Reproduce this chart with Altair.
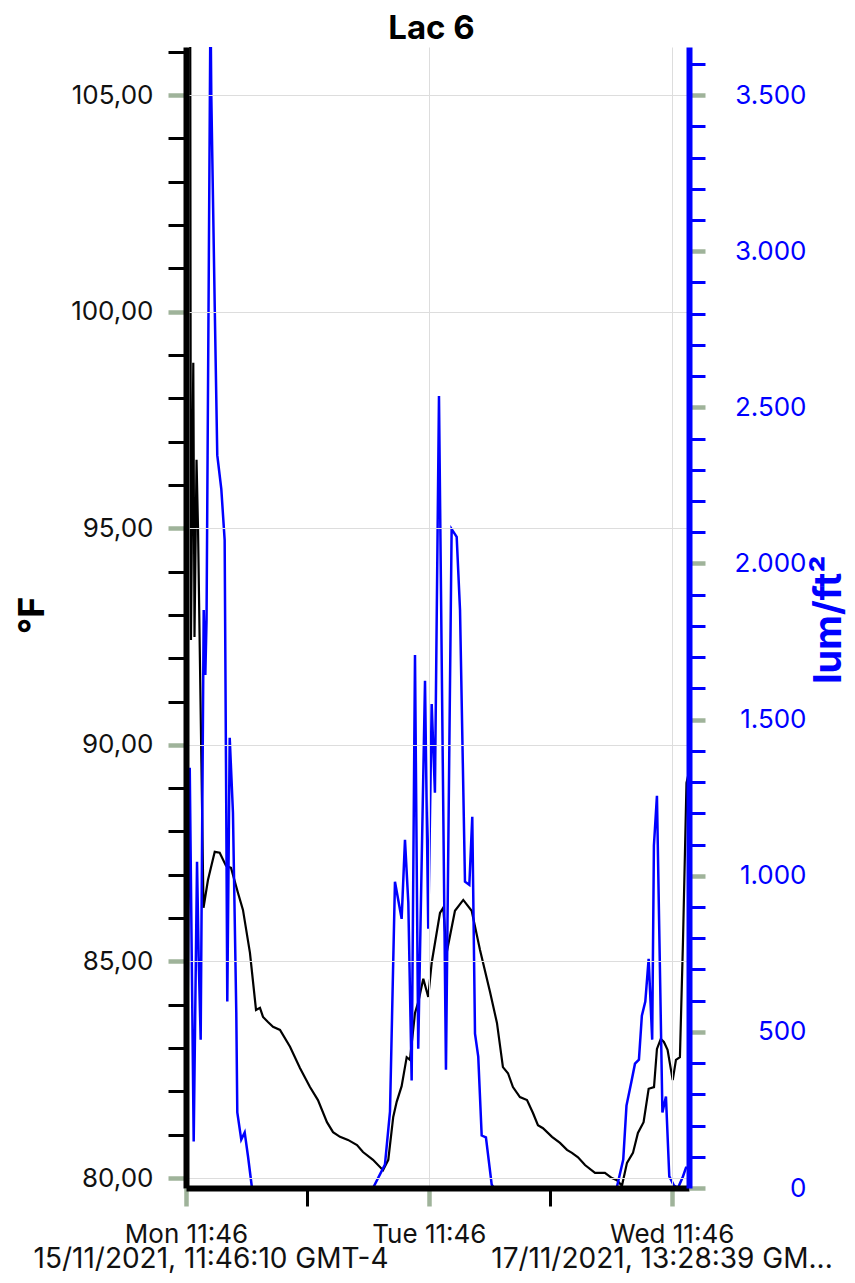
import altair as alt
import pandas as pd

START = "2021-11-15 11:46:10"
END = "2021-11-17 13:28:39"

# Temperature (°F), hours since start
temp_hours = [0.00, 0.40, 0.49, 0.72, 0.84, 1.04, 1.19, 1.73, 2.17, 2.84, 3.33, 3.95, 4.45, 5.14, 5.63,
              6.32, 6.92, 7.31, 7.61, 8.10, 8.60, 9.29, 10.28, 11.26, 12.25, 13.04, 13.93, 14.53, 15.22,
              16.01, 16.90, 17.49, 18.48, 19.47, 19.99, 20.48, 20.82, 21.31, 21.81, 22.13, 22.63, 22.95,
              23.45, 23.94, 24.28, 25.10, 25.42, 25.76, 26.58, 27.40, 28.23, 29.05, 30.04, 30.73, 31.32,
              31.82, 32.31, 33.00, 33.70, 34.29, 34.78, 35.28, 36.17, 36.96, 37.65, 38.14, 38.74, 39.43,
              40.42, 41.40, 42.09, 42.59, 43.08, 43.58, 44.17, 44.66, 45.22, 45.72, 46.25, 46.54, 46.92,
              47.23, 47.59, 48.10, 48.42, 48.81, 49.11, 49.46, 49.71]
temp_values = [112, 110, 92.42, 98.82, 92.49, 96.58, 94.97, 86.24, 86.88, 87.53, 87.51, 87.21, 87.16,
               86.58, 86.19, 85.20, 83.88, 83.93, 83.72, 83.60, 83.49, 83.42, 83.03, 82.54, 82.10, 81.80,
               81.29, 81.06, 80.95, 80.88, 80.76, 80.60, 80.42, 80.18, 80.42, 81.41, 81.76, 82.12, 82.79,
               82.73, 83.81, 84.06, 84.60, 84.18, 84.97, 86.12, 86.24, 85.20, 86.17, 86.42, 86.17, 85.27,
               84.30, 83.58, 82.56, 82.42, 82.10, 81.87, 81.80, 81.50, 81.22, 81.15, 80.95, 80.81, 80.65,
               80.58, 80.48, 80.30, 80.12, 80.12, 80.00, 79.95, 79.82, 80.35, 80.58, 81.04, 81.29, 82.06,
               82.10, 82.98, 83.21, 83.14, 82.96, 82.26, 82.73, 82.79, 85.43, 89.12, 89.38]

# Illuminance (lum/ft²), hours since start
lum_hours = [0.00, 0.37, 0.76, 1.09, 1.25, 1.45, 1.75, 1.91, 2.03, 2.42, 2.50, 2.84, 3.09, 3.49, 3.82,
             3.98, 4.08, 4.32, 4.64, 4.97, 5.07, 5.46, 5.80, 6.13, 6.52, 18.48, 19.66, 20.16, 20.65,
             21.31, 21.64, 21.97, 22.30, 22.63, 22.95, 23.62, 23.94, 24.28, 24.60, 25.00, 25.69, 26.25,
             26.75, 27.08, 27.57, 28.00, 28.29, 28.56, 28.88, 29.22, 29.64, 30.21, 30.43, 42.56, 43.21,
             43.53, 44.02, 44.37, 44.76, 45.05, 45.39, 45.72, 46.07, 46.24, 46.54, 47.08, 47.43, 47.76,
             48.22, 48.62, 49.11, 49.41, 49.71]
lum_values = [0, 1346, 149, 1045, 741, 475, 1851, 1643, 1819, 3800, 3499, 2821, 2347, 2238, 2075, 1202,
              597, 1442, 1202, 562, 242, 155, 178, 101, 0, 0, 75, 245, 981, 862, 1115, 914, 344, 1707,
              446, 1624, 830, 1550, 1266, 2536, 379, 2110, 2085, 1851, 981, 971, 1189, 494, 421, 168,
              162, 11, 0, 0, 91, 264, 341, 398, 411, 552, 597, 734, 475, 1096, 1256, 242, 293, 37, 8, 0,
              37, 65, 65]

x_tick_hours = [0, 12, 24, 36, 48]
temp_ticks = list(range(80, 107))
lum_ticks = list(range(0, 3700, 100))
temp_domain = [79.77, 106.11]
lum_domain = [0, 3654]

title_text = "Lac 6"
start_label = "15/11/2021, 11:46:10 GMT-4"
end_label = "17/11/2021, 13:28:39 GM..."

GREEN = "#9fb39a"
BLUE = "#0000ff"
FONT = "Inter"

start_ms = pd.Timestamp(START, tz="UTC").value // 10**6
end_ms = pd.Timestamp(END, tz="UTC").value // 10**6
H = 3600 * 1000

temp_df = pd.DataFrame({"t": [start_ms + int(h * H) for h in temp_hours], "temp": temp_values})
lum_df = pd.DataFrame({"t": [start_ms + int(h * H) for h in lum_hours], "lum": lum_values})

MAJOR_X = "utchours(datum.value) == 11"

x_enc = alt.X(
    "t:T",
    scale=alt.Scale(type="utc", domain=[start_ms, end_ms], nice=False),
    axis=alt.Axis(
        title=None,
        values=[start_ms + h * H for h in x_tick_hours],
        labelExpr=MAJOR_X + " ? utcFormat(datum.value, '%a %H:%M') : ''",
        labelFontSize=26, labelColor="#111111", labelFont=FONT,
        labelFlush=False, labelOverlap=False, labelPadding=15,
        tickSize=18,
        tickColor={"condition": {"test": MAJOR_X, "value": GREEN}, "value": "black"},
        tickWidth={"condition": {"test": MAJOR_X, "value": 4.5}, "value": 3},
        grid=True, gridColor="#dddddd", gridWidth=1,
        gridOpacity={"condition": {"test": MAJOR_X, "value": 1}, "value": 0},
        domainColor="black", domainWidth=6, zindex=1,
    ),
)

temp_line = alt.Chart(temp_df).mark_line(color="black", strokeWidth=2.2, clip=True).encode(
    x=x_enc,
    y=alt.Y(
        "temp:Q",
        scale=alt.Scale(domain=temp_domain, nice=False, zero=False),
        axis=alt.Axis(
            orient="left", title="°F", titleFontSize=36, titleFontWeight="bold", titleColor="black",
            titleFont=FONT, titleAngle=270, titleBaseline="middle", titleAlign="center",
            titleX=-154, titleY=568,
            values=temp_ticks,
            labelExpr="datum.value % 5 == 0 ? replace(format(datum.value, '.2f'), '.', ',') : ''",
            labelFontSize=26, labelColor="#111111", labelFont=FONT, labelPadding=15,
            labelOverlap=False,
            tickSize=18,
            tickColor={"condition": {"test": "datum.value % 5 == 0", "value": GREEN}, "value": "black"},
            tickWidth={"condition": {"test": "datum.value % 5 == 0", "value": 4.5}, "value": 3},
            grid=True, gridColor="#dddddd", gridWidth=1,
            gridOpacity={"condition": {"test": "datum.value % 5 == 0", "value": 1}, "value": 0},
            domainColor="black", domainWidth=6, zindex=1,
        ),
    ),
)

lum_line = alt.Chart(lum_df).mark_line(color=BLUE, strokeWidth=2.5, clip=True).encode(
    x=x_enc,
    y=alt.Y(
        "lum:Q",
        scale=alt.Scale(domain=lum_domain, nice=False, zero=False),
        axis=alt.Axis(
            orient="right", title="lum/ft²", titleFontSize=38, titleFontWeight="bold", titleColor=BLUE,
            titleFont=FONT, titleAngle=270, titleBaseline="middle", titleAlign="center",
            titleX=140, titleY=572,
            values=lum_ticks,
            labelExpr="datum.value % 500 == 0 ? replace(format(datum.value, ','), ',', '.') : ''",
            labelFontSize=26, labelColor=BLUE, labelFont=FONT, labelAlign="right", labelPadding=101,
            labelOverlap=False,
            tickSize=16,
            tickColor={"condition": {"test": "datum.value % 500 == 0", "value": GREEN}, "value": BLUE},
            tickWidth={"condition": {"test": "datum.value % 500 == 0", "value": 4.5}, "value": 3},
            grid=False,
            domainColor=BLUE, domainWidth=6, zindex=1,
        ),
    ),
)

start_text = alt.Chart(pd.DataFrame({"label": [start_label]})).mark_text(
    fontSize=28, font=FONT, color="#111111", align="center", baseline="alphabetic"
).encode(text="label:N", x=alt.value(25), y=alt.value(1221))

end_text = alt.Chart(pd.DataFrame({"label": [end_label]})).mark_text(
    fontSize=28, font=FONT, color="#111111", align="center", baseline="alphabetic"
).encode(text="label:N", x=alt.value(476), y=alt.value(1221))

chart = (
    alt.layer(temp_line, lum_line, start_text, end_text)
    .resolve_scale(y="independent")
    .properties(
        width=503,
        height=1141,
        title=alt.TitleParams(title_text, fontSize=33, fontWeight="bold", font=FONT, color="black",
                              anchor="middle", offset=8, dy=15, dx=-6),
        autosize=alt.AutoSizeParams(type="none"),
        padding={"left": 178, "top": 39, "right": 158, "bottom": 87},
    )
    .configure(font=FONT)
    .configure_view(stroke=None)
)

chart.save("out.html", embed_options={"renderer": "svg", "actions": False})
